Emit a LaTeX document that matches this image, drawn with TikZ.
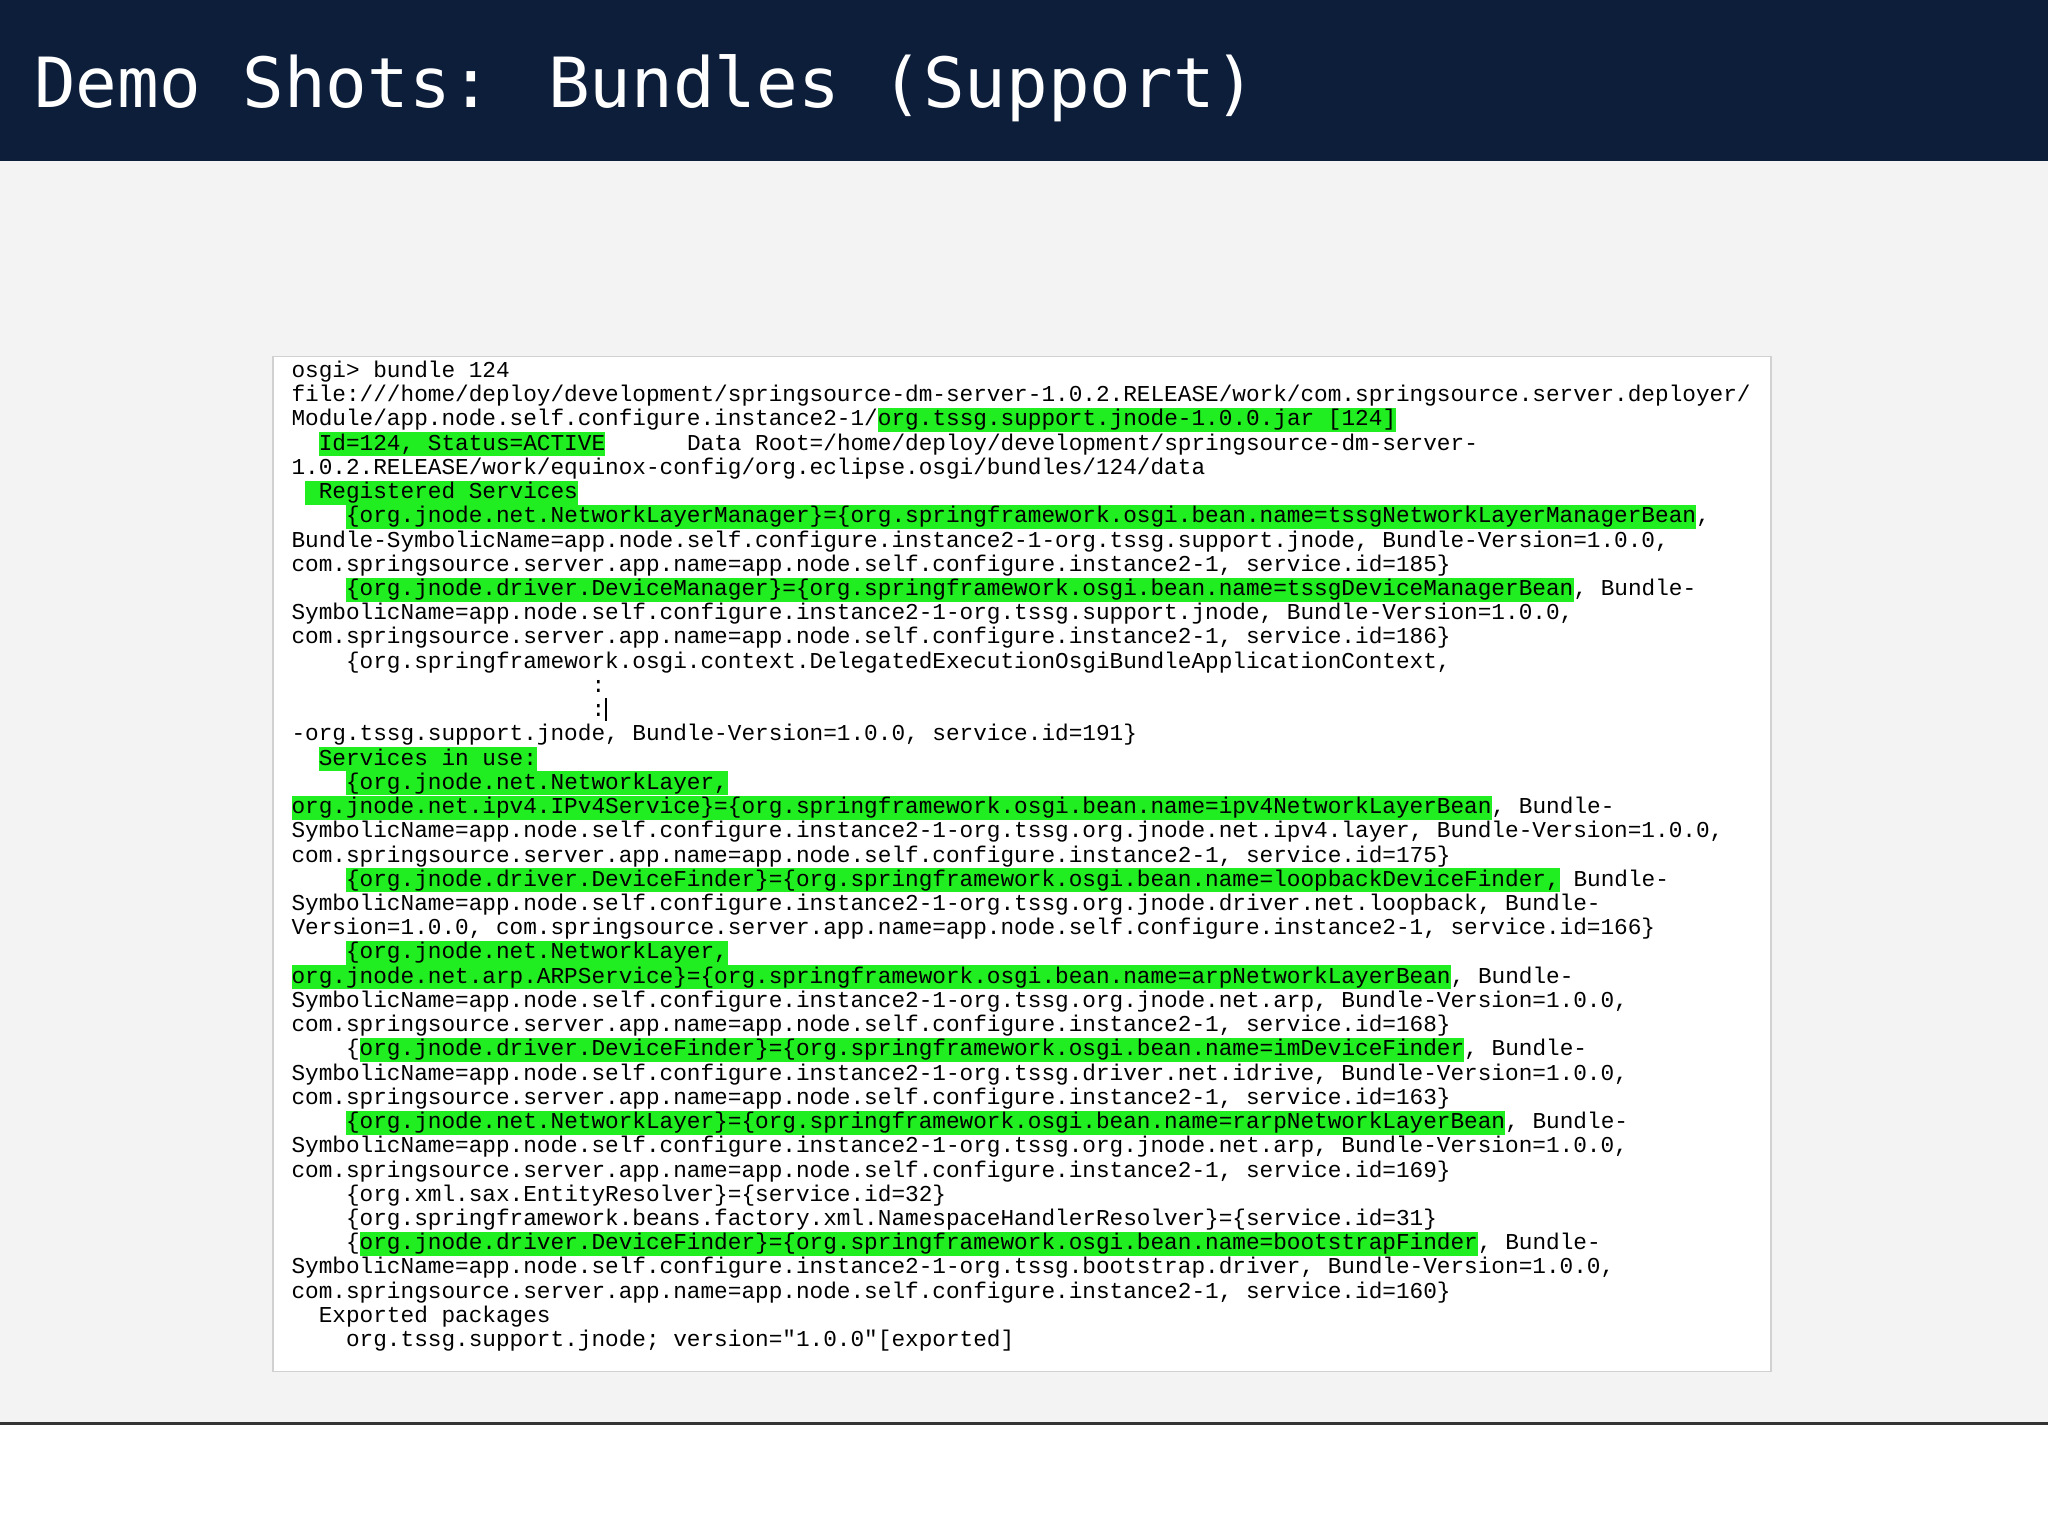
\documentclass[tikz,border=0pt]{standalone}
\usepackage{fontspec}
\newfontfamily\mono{Liberation Mono}
\newfontfamily\titlefont{DejaVu Sans Mono}
\definecolor{navy}{RGB}{12,30,58}
\definecolor{hlg}{RGB}{32,238,32}
\definecolor{slidebg}{RGB}{243,243,243}
\newcommand\hl[1]{{\setlength{\fboxsep}{0pt}\colorbox{hlg}{\rule[-4.6pt]{0pt}{18.4pt}#1}}}
\newcommand\spc[1]{\hspace*{#1\dimexpr 10.44pt\relax}}
\newcommand\lnn[3]{\node[txt] (l#1) at ({223+#2*10.44},{289+(#1-1)*18.55}) {#3};}
\begin{document}
\begin{tikzpicture}[x=1pt,y=-1pt,
  txt/.style={anchor=base west,inner sep=0pt,font=\mono\fontsize{17.4}{18.55}\selectfont,text=black}]
\useasboundingbox (0,0) rectangle (1568,1176);
\fill[white] (0,0) rectangle (1568,1176);
\fill[slidebg] (0,123) rectangle (1568,1090);
\fill[navy] (0,0) rectangle (1568,123);
\draw[black!80,line width=2pt] (0,1090) -- (1568,1090);
\node[anchor=base west,inner sep=0pt,text=white,font=\titlefont\fontsize{53}{60}\selectfont] (title) at (26,82) {Demo Shots: Bundles (Support)};
\filldraw[fill=white,draw=black!18,line width=1pt] (209,273) rectangle (1356,1050);
\lnn{1}{0}{osgi> bundle 124}
\lnn{2}{0}{file:///home/deploy/development/springsource-dm-server-1.0.2.RELEASE/work/com.springsource.server.deployer/}
\lnn{3}{0}{Module/app.node.self.configure.instance2-1/\hl{org.tssg.support.jnode-1.0.0.jar [124]}}
\lnn{4}{2}{\hl{Id=124, Status=ACTIVE}\spc{6}Data Root=/home/deploy/development/springsource-dm-server-}
\lnn{5}{0}{1.0.2.RELEASE/work/equinox-config/org.eclipse.osgi/bundles/124/data}
\lnn{6}{1}{\hl{\spc{1}Registered Services}}
\lnn{7}{4}{\hl{\{org.jnode.net.NetworkLayerManager\}=\{org.springframework.osgi.bean.name=tssgNetworkLayerManagerBean},}
\lnn{8}{0}{Bundle-SymbolicName=app.node.self.configure.instance2-1-org.tssg.support.jnode, Bundle-Version=1.0.0,}
\lnn{9}{0}{com.springsource.server.app.name=app.node.self.configure.instance2-1, service.id=185\}}
\lnn{10}{4}{\hl{\{org.jnode.driver.DeviceManager\}=\{org.springframework.osgi.bean.name=tssgDeviceManagerBean}, Bundle-}
\lnn{11}{0}{SymbolicName=app.node.self.configure.instance2-1-org.tssg.support.jnode, Bundle-Version=1.0.0,}
\lnn{12}{0}{com.springsource.server.app.name=app.node.self.configure.instance2-1, service.id=186\}}
\lnn{13}{4}{\{org.springframework.osgi.context.DelegatedExecutionOsgiBundleApplicationContext,}
\lnn{14}{22}{:}
\lnn{15}{22}{:\rule[-3pt]{1.4pt}{17pt}}
\lnn{16}{0}{-org.tssg.support.jnode, Bundle-Version=1.0.0, service.id=191\}}
\lnn{17}{2}{\hl{Services in use:}}
\lnn{18}{4}{\hl{\{org.jnode.net.NetworkLayer,}}
\lnn{19}{0}{\hl{org.jnode.net.ipv4.IPv4Service\}=\{org.springframework.osgi.bean.name=ipv4NetworkLayerBean}, Bundle-}
\lnn{20}{0}{SymbolicName=app.node.self.configure.instance2-1-org.tssg.org.jnode.net.ipv4.layer, Bundle-Version=1.0.0,}
\lnn{21}{0}{com.springsource.server.app.name=app.node.self.configure.instance2-1, service.id=175\}}
\lnn{22}{4}{\hl{\{org.jnode.driver.DeviceFinder\}=\{org.springframework.osgi.bean.name=loopbackDeviceFinder,} Bundle-}
\lnn{23}{0}{SymbolicName=app.node.self.configure.instance2-1-org.tssg.org.jnode.driver.net.loopback, Bundle-}
\lnn{24}{0}{Version=1.0.0, com.springsource.server.app.name=app.node.self.configure.instance2-1, service.id=166\}}
\lnn{25}{4}{\hl{\{org.jnode.net.NetworkLayer,}}
\lnn{26}{0}{\hl{org.jnode.net.arp.ARPService\}=\{org.springframework.osgi.bean.name=arpNetworkLayerBean}, Bundle-}
\lnn{27}{0}{SymbolicName=app.node.self.configure.instance2-1-org.tssg.org.jnode.net.arp, Bundle-Version=1.0.0,}
\lnn{28}{0}{com.springsource.server.app.name=app.node.self.configure.instance2-1, service.id=168\}}
\lnn{29}{4}{\{\hl{org.jnode.driver.DeviceFinder\}=\{org.springframework.osgi.bean.name=imDeviceFinder}, Bundle-}
\lnn{30}{0}{SymbolicName=app.node.self.configure.instance2-1-org.tssg.driver.net.idrive, Bundle-Version=1.0.0,}
\lnn{31}{0}{com.springsource.server.app.name=app.node.self.configure.instance2-1, service.id=163\}}
\lnn{32}{4}{\hl{\{org.jnode.net.NetworkLayer\}=\{org.springframework.osgi.bean.name=rarpNetworkLayerBean}, Bundle-}
\lnn{33}{0}{SymbolicName=app.node.self.configure.instance2-1-org.tssg.org.jnode.net.arp, Bundle-Version=1.0.0,}
\lnn{34}{0}{com.springsource.server.app.name=app.node.self.configure.instance2-1, service.id=169\}}
\lnn{35}{4}{\{org.xml.sax.EntityResolver\}=\{service.id=32\}}
\lnn{36}{4}{\{org.springframework.beans.factory.xml.NamespaceHandlerResolver\}=\{service.id=31\}}
\lnn{37}{4}{\{\hl{org.jnode.driver.DeviceFinder\}=\{org.springframework.osgi.bean.name=bootstrapFinder}, Bundle-}
\lnn{38}{0}{SymbolicName=app.node.self.configure.instance2-1-org.tssg.bootstrap.driver, Bundle-Version=1.0.0,}
\lnn{39}{0}{com.springsource.server.app.name=app.node.self.configure.instance2-1, service.id=160\}}
\lnn{40}{2}{Exported packages}
\lnn{41}{4}{org.tssg.support.jnode; version="1.0.0"[exported]}
\end{tikzpicture}
\end{document}
